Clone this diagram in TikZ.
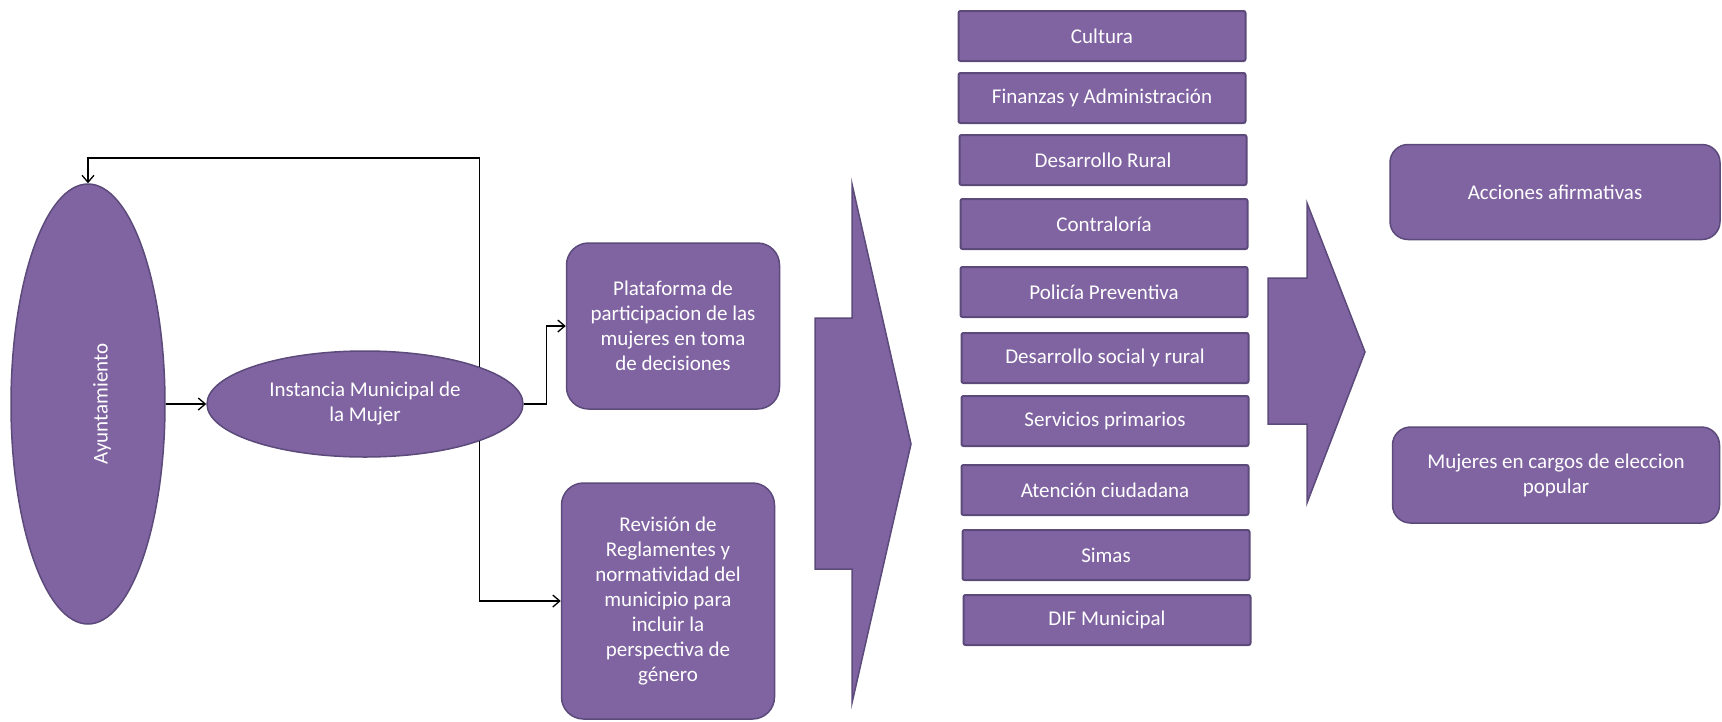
\documentclass[tikz,border=0pt]{standalone}
\usepackage{fontspec}
\setmainfont{Carlito}
\usepackage{tikz}
\usetikzlibrary{shapes,arrows,arrows.meta,positioning,calc}
\definecolor{lila}{HTML}{8064A2}
\definecolor{lilaborde}{HTML}{5C4A7B}

\begin{document}
\begin{tikzpicture}[x=1pt, y=-1pt,
    every node/.style={font=\fontsize{21}{25}\selectfont, text=white},
    elipse/.style={ellipse, fill=lila, draw=lilaborde, line width=1.5pt, inner sep=0pt, align=center},
    caja/.style={rectangle, rounded corners=22pt, fill=lila, draw=lilaborde, line width=1.5pt, align=center, inner sep=0pt},
    area/.style={rectangle, rounded corners=2pt, fill=lila, draw=lilaborde, line width=2pt, minimum width=287pt, minimum height=50pt, inner sep=0pt},
    flecha/.style={fill=lila, draw=lilaborde, line width=1.5pt},
    conector/.style={-{Straight Barb[length=7pt, width=12pt]}, black, line width=1.3pt}]
    \useasboundingbox (0,0) rectangle (1722,721);

    % Ayuntamiento e instancia
    \node[elipse, minimum width=154pt, minimum height=440pt] (ayu) at (88,404) {\hspace*{28pt}\rotatebox{90}{Ayuntamiento}};
    \node[elipse, minimum width=316pt, minimum height=106pt] (inst) at (365,404) {Instancia Municipal de\\la Mujer};

    % Cajas de accion
    \node[caja, minimum width=213pt, minimum height=166pt] (plat) at (673,326)
        {Plataforma de\\participacion de las\\mujeres en toma\\de decisiones};
    \node[caja, minimum width=213pt, minimum height=236pt] (rev) at (668,601)
        {Revisión de\\Reglamentes y\\normatividad del\\municipio para\\incluir la\\perspectiva de\\género};

    % Conectores
    \coordinate (arriba) at (0,158);
    \draw[conector] (ayu.east) -- (inst.west);
    \draw[conector] (inst.18) -- (inst.18 |- arriba) -| (ayu.north);
    \draw[conector] (inst.east) -- ++(23,0) |- (plat.west);
    \draw[conector] (inst.-18) |- (rev.west);

    % Flechas grandes
    \filldraw[flecha] (815,318) -- (852,318) -- (852,184) -- (911,444) -- (852,703) -- (852,569) -- (815,569) -- cycle;
    \filldraw[flecha] (1268,278) -- (1307,278) -- (1307,203) -- (1365,352) -- (1307,503) -- (1307,424) -- (1268,424) -- cycle;

    % Areas del municipio
    \foreach \nombre/\x/\y/\texto in {cul/1102/36/Cultura, fin/1102/98/Finanzas y Administración,
        rur/1103/160/Desarrollo Rural, con/1104/224/Contraloría, pol/1104/292/Policía Preventiva,
        soc/1105/358/Desarrollo social y rural, ser/1105/421/Servicios primarios,
        ate/1105/490/Atención ciudadana, sim/1106/555/Simas, dif/1107/620/DIF Municipal} {
        \node[area] (\nombre) at (\x,\y) {\texto};
    }

    % Resultados
    \node[caja, rounded corners=18pt, minimum width=330pt, minimum height=95pt] (acc) at (1555,192) {Acciones afirmativas};
    \node[caja, rounded corners=18pt, minimum width=327pt, minimum height=96pt] (muj) at (1556,475) {Mujeres en cargos de eleccion\\popular};
\end{tikzpicture}
\end{document}
